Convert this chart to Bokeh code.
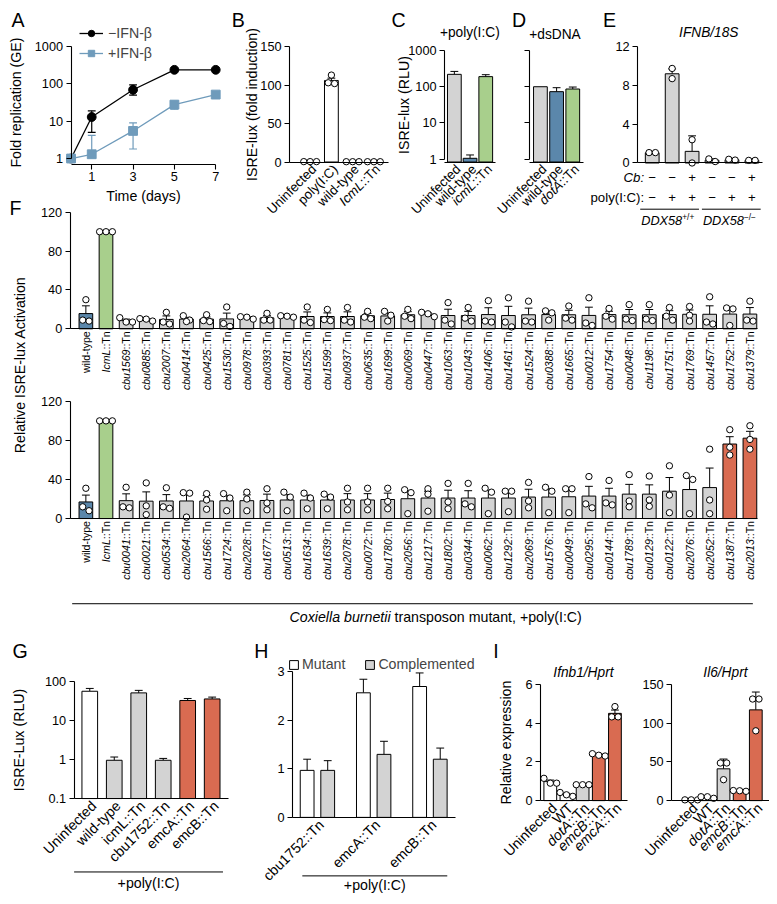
import math
from bokeh.plotting import figure
from bokeh.models import (Range1d, FixedTicker, CustomJSTickFormatter, Whisker, TeeHead,
                          LabelSet, Label, ColumnDataSource, Legend, LegendItem)
from bokeh.embed import file_html
from bokeh.resources import INLINE
from bokeh.core.properties import value

# ---------------------------------------------------------------- data
# A
A_days = [0, 1, 3, 5, 7]
A_minus = [1, 13, 70, 240, 240]
A_minus_lo = [1, 5, 50, 240, 240]
A_minus_hi = [1, 19, 95, 240, 240]
A_plus = [1, 1.3, 5.5, 28, 52]
A_plus_lo = [1, 1.3, 1.8, 21, 52]
A_plus_hi = [1, 4.2, 9, 35, 52]
A_xticks = [1, 3, 5, 7]
A_yticks = [1, 10, 100, 1000]
# B
B_cats = ["Uninfected", "poly(I:C)", "wild-type", "IcmL::Tn"]
B_mean = [0.5, 106, 0.4, 0.4]
B_err = [0, 3, 0, 0]
B_dots = [[0.5, 0.5, 0.5], [113, 103, 102], [0.4, 0.4, 0.4], [0.4, 0.4, 0.4]]
B_yticks = [0, 50, 100, 150]
# C
C_cats = ["Uninfected", "wild-type", "icmL::Tn"]
C_mean = [220, 1.05, 190]
C_err = [45, 0.25, 25]
LOG_TICKS = [1, 10, 100, 1000]
# D
D_cats = ["Uninfected", "wild-type", "dotA::Tn"]
D_mean = [100, 73, 86.5]
D_err = [0, 21, 11.5]
# E
E_cb = ["\u2212", "\u2212", "+", "\u2212", "\u2212", "+"]
E_poly = ["\u2212", "+", "+", "\u2212", "+", "+"]
E_mean = [1.05, 9.2, 1.2, 0.28, 0.33, 0.27]
E_err = [0.03, 0.5, 1.6, 0.15, 0.05, 0.02]
E_dots = [[1.07, 1.07], [9.75, 8.7], [2.4, 0.0], [0.15, 0.42], [0.3, 0.38], [0.27, 0.27]]
E_yticks = [0, 4, 8, 12]
# F (top)
F_top_cats = ["wild-type", "IcmL::Tn", "cbu1569::Tn", "cbu0885::Tn", "cbu2007::Tn", "cbu0414::Tn",
              "cbu0425::Tn", "cbu1530::Tn", "cbu0978::Tn", "cbu0393::Tn", "cbu0781::Tn", "cbu1525::Tn",
              "cbu1599::Tn", "cbu0937::Tn", "cbu0635::Tn", "cbu1699::Tn", "cbu0069::Tn", "cbu0447::Tn",
              "cbu1063::Tn", "cbu1043::Tn", "cbu1406::Tn", "cbu1461::Tn", "cbu1524::Tn", "cbu0388::Tn",
              "cbu1665::Tn", "cbu0012::Tn", "cbu1754::Tn", "cbu0048::Tn", "cbu1198::Tn", "cbu1751::Tn",
              "cbu1769::Tn", "cbu1457::Tn", "cbu1752::Tn", "cbu1379::Tn"]
F_top_mean = [15.7, 100, 8.5, 9.5, 9.7, 10, 10, 10.2, 11.5, 11.3, 12.5, 12.7, 12.7, 12.7, 13.5, 13.3,
              14.5, 15, 13.7, 13.7, 14.7, 13.7, 14.5, 14.7, 14.5, 13.8, 14.7, 14.5, 14.5, 14.7, 15, 15,
              15.2, 15.2]
F_top_err = [8, 0, 1.5, 0.8, 3.6, 1.8, 2.2, 6, 0.8, 2.3, 0.5, 4.7, 3.7, 4.8, 2.4, 3, 3.2, 1.4, 6.5,
             4.3, 7, 9.5, 6.8, 2.9, 4.6, 8.5, 3.4, 5.4, 5.4, 4, 4.4, 8.7, 5.7, 6.7]
F_top_dots = [[30, 9, 8], [100, 100, 100], [11.5, 7, 7], [10.5, 10, 8], [17, 7, 5], [13.5, 9, 7.5],
              [14.5, 8.5, 7.5], [22.5, 5.5, 2.5], [12.5, 12, 10], [16, 9, 9], [13.5, 13, 12],
              [22.5, 9, 6.5], [20, 9.5, 8.5], [22, 9, 7], [18, 12, 10.5], [18, 14, 8], [20, 13, 10.5],
              [17, 15.5, 12.5], [27, 9, 5], [22, 11, 8], [29, 8, 7], [32, 7, 2], [28.5, 8, 7],
              [18.5, 16.5, 9], [23.5, 11, 9], [32, 6, 3.5], [21, 13, 10], [25, 10, 8.5], [25, 10, 8.5],
              [22, 13, 9], [23, 14, 8], [33, 7, 5], [21.5, 20.5, 3.5], [28.5, 9, 8]]
# F (bottom)
F_bot_cats = ["wild-type", "IcmL::Tn", "cbu0041::Tn", "cbu0021::Tn", "cbu0534::Tn", "cbu2064::Tn",
              "cbu1566::Tn", "cbu1724::Tn", "cbu2028::Tn", "cbu1677::Tn", "cbu0513::Tn", "cbu1634::Tn",
              "cbu1639::Tn", "cbu2078::Tn", "cbu0072::Tn", "cbu1780::Tn", "cbu2056::Tn", "cbu1217::Tn",
              "cbu1802::Tn", "cbu0344::Tn", "cbu0062::Tn", "cbu1292::Tn", "cbu2069::Tn", "cbu1576::Tn",
              "cbu0049::Tn", "cbu0295::Tn", "cbu0144::Tn", "cbu1789::Tn", "cbu0129::Tn", "cbu0122::Tn",
              "cbu2076::Tn", "cbu2052::Tn", "cbu1387::Tn", "cbu2013::Tn"]
F_bot_mean = [17, 100, 18.3, 17.8, 18, 18, 18, 18.2, 18.3, 18.5, 19, 19, 19, 19, 19, 19.5, 20.3, 21,
              21, 21, 21, 21, 22, 22, 22.3, 23, 23, 25, 25, 28, 29.7, 31.7, 76.3, 82.3]
F_bot_err = [7, 0, 7, 9.5, 6.5, 8, 5.5, 5.5, 6, 6.5, 5.5, 5, 5, 6.5, 6.5, 6.5, 7.5, 7, 8, 7.5, 8, 7,
             8, 8.5, 8, 10, 8, 10, 9.5, 14, 11.5, 20, 7.5, 7]
F_bot_dots = [[31, 12, 8], [100, 100, 100], [32, 12, 11], [36.5, 13, 4], [31.5, 12, 10.5],
              [26.5, 26, 1.5], [25.5, 19, 9.5], [25.5, 21, 8], [27, 20, 8], [30.5, 16, 9], [27, 22, 8],
              [26, 21, 10], [25, 22, 10], [31, 17, 9], [31, 17, 9], [31, 17.5, 10], [29.5, 26.5, 5],
              [30.5, 25, 7.5], [36, 17, 10], [36, 15, 12], [31, 27, 5], [28, 28, 7], [37, 18, 11],
              [32, 28, 6], [30.5, 30.5, 6], [43, 15, 11], [39, 16, 14], [45, 18, 12], [43.5, 19, 12.5],
              [54, 24, 6], [44, 40, 5], [71, 19, 5], [91, 73, 65], [95, 81, 71]]
F_yticks = [0, 40, 80, 120]
# G
G_cats = ["Uninfected", "wild-type", "icmL::Tn", "cbu1752::Tn", "emcA::Tn", "emcB::Tn"]
G_mean = [55, 0.95, 50, 0.95, 32, 35]
G_err = [10, 0.2, 8, 0.11, 4, 4]
G_yticks = [0.1, 1, 10, 100]
# H
H_cats = ["cbu1752::Tn", "emcA::Tn", "emcB::Tn"]
H_mut = [0.97, 2.57, 2.7]
H_mut_err = [0.23, 0.28, 0.28]
H_comp = [0.97, 1.3, 1.2]
H_comp_err = [0.2, 0.27, 0.23]
H_yticks = [0, 1, 2, 3]
# I
I_cats = ["Uninfected", "WT", "dotA::Tn", "emcB::Tn", "emcA::Tn"]
I1_mean = [0.98, 0.31, 0.82, 2.35, 4.5]
I1_err = [0.08, 0.06, 0.02, 0.04, 0.17]
I1_dots = [[1.15, 0.9, 0.9], [0.42, 0.22, 0.3], [0.82, 0.82, 0.82], [2.42, 2.34, 2.3], [4.85, 4.32, 4.32]]
I1_yticks = [0, 2, 4, 6]
I2_mean = [1, 4.3, 41, 12.6, 117]
I2_err = [0.2, 0.6, 12.6, 0.3, 23]
I2_dots = [[1, 1, 1], [3, 5, 5], [48.5, 48.5, 27], [12.7, 13, 12], [131, 131, 90]]
I2_yticks = [0, 50, 100, 150]

# ---------------------------------------------------------------- style helpers
S = 761 / 777
FONT = "Liberation Sans"
GREY, BLUE, LBLUE, GREEN, RED, WHITE = "#d3d3d3", "#5b87ab", "#6f9bbb", "#a8cf8c", "#d96b51", "#ffffff"
EM = {":": 0.278, "T": 0.611, "n": 0.556}
LB, RB, TB, BB = 90, 0, 0, 60
ROOTS = []   # (model, left, top) in page pixels


def fs(v):
    return f"{v * S:.2f}px"


def cal(p1, v1, p2, v2, log=False):
    f = math.log10 if log else (lambda v: v)
    a1, a2 = f(v1), f(v2)

    def val(p):
        a = a1 + (p - p1) * (a2 - a1) / (p2 - p1)
        return 10 ** a if log else a
    return val


def panel(region, xcal, ycal, ylog=False):
    x0, y0, x1, y1 = region
    FX0, FY0, FX1, FY1 = round(x0 * S), round(y0 * S), round(x1 * S), round(y1 * S)
    xv = cal(*xcal)
    yv = cal(*ycal, log=ylog)
    p = figure(width=FX1 - FX0 + LB + RB, height=FY1 - FY0 + TB + BB,
               x_range=Range1d(xv(x0), xv(x1)), y_range=Range1d(yv(y1), yv(y0)),
               y_axis_type="log" if ylog else "linear",
               output_backend="svg", toolbar_location=None, min_border=0,
               min_border_left=LB, min_border_right=RB, min_border_top=TB, min_border_bottom=BB,
               background_fill_alpha=0, border_fill_alpha=0, outline_line_color=None)
    p.title.visible = False
    p.grid.visible = False
    ROOTS.append((p, FX0 - LB, FY0 - TB))
    return p, xv, yv


def style(p, yticks, ybounds, y_fixed, x_fixed, xbounds, xticks=(), ylabels=True, ylabel=None,
          ylabel_standoff=5):
    for ax in list(p.xaxis) + list(p.yaxis):
        ax.axis_line_color = "black"
        ax.axis_line_width = 1.1
        ax.major_tick_line_color = "black"
        ax.major_tick_line_width = 1.1
        ax.major_tick_out = round(5 * S)
        ax.major_tick_in = 0
        ax.minor_tick_line_color = None
        ax.major_label_text_font = FONT
        ax.major_label_text_font_size = fs(13)
        ax.major_label_text_color = "black"
        ax.major_label_standoff = round(3 * S)
        ax.axis_label_text_font = FONT
        ax.axis_label_text_font_size = fs(14.5)
        ax.axis_label_text_font_style = "normal"
        ax.axis_label_text_color = "black"
    p.yaxis.ticker = FixedTicker(ticks=list(yticks))
    p.yaxis.bounds = ybounds
    p.yaxis.fixed_location = y_fixed
    p.yaxis.formatter = CustomJSTickFormatter(code="return String(tick)" if ylabels else "return ''")
    p.xaxis.ticker = FixedTicker(ticks=list(xticks))
    p.xaxis.formatter = CustomJSTickFormatter(code="return String(tick)")
    p.xaxis.bounds = xbounds
    p.xaxis.fixed_location = x_fixed
    if ylabel:
        p.yaxis.axis_label = ylabel
        p.yaxis.axis_label_standoff = round(ylabel_standoff * S)


def bars(p, xs, tops, colors, width, bottom=0.0):
    src = ColumnDataSource(dict(x=list(xs), top=list(tops), c=list(colors)))
    return p.vbar(x="x", top="top", bottom=bottom, width=width, fill_color="c",
                  line_color="black", line_width=1, source=src)


def errbars(p, xs, tops, errs, color="black", cap=8):
    b, lo, hi = [], [], []
    for x, t, e in zip(xs, tops, errs):
        if e > 0:
            b.append(x)
            lo.append(t)
            hi.append(t + e)
    src = ColumnDataSource(dict(b=b, lo=lo, hi=hi))
    p.add_layout(Whisker(source=src, base="b", lower="lo", upper="hi", dimension="height",
                         line_color=color, line_width=1,
                         upper_head=TeeHead(size=cap * S, line_color=color, line_width=1),
                         lower_head=None))


def dots(p, xs, groups, ppx, ppy, diam=6.5):
    d = diam / ppx
    ox, oy = [], []
    for xc, vals in zip(xs, groups):
        rows = []
        for v in sorted(vals, reverse=True):
            if rows and abs(v - rows[-1][0]) * ppy < diam * 0.8:
                rows[-1][1].append(v)
            else:
                rows.append((v, [v]))
        for _, r in rows:
            m = len(r)
            for k, v in enumerate(r):
                ox.append(xc + (k - (m - 1) / 2) * d)
                oy.append(v)
    p.scatter(x=ox, y=oy, marker="circle", size=diam * S, fill_color="white",
              line_color="black", line_width=1)


def cat_labels(p, xs, names, y0, size, angle, dx, dy, italic=True):
    size_px = size * S
    ca, sa = math.cos(angle), math.sin(angle)
    R = dict(x=[], y=[], t=[], xo=[], yo=[])
    I = dict(x=[], y=[], t=[], xo=[], yo=[])
    for x, name in zip(xs, names):
        if italic and name.endswith("::Tn"):
            it, ro = name[:-4], "::Tn"
        else:
            it, ro = "", name
        R["x"].append(x); R["y"].append(y0); R["t"].append(ro)
        R["xo"].append(dx * S); R["yo"].append(dy * S)
        if it:
            w = sum(EM.get(c, 0.556) for c in ro) * size_px
            I["x"].append(x); I["y"].append(y0); I["t"].append(it)
            I["xo"].append(dx * S - w * ca); I["yo"].append(dy * S - w * sa)
    for d, st in ((R, "normal"), (I, "italic")):
        if d["x"]:
            p.add_layout(LabelSet(source=ColumnDataSource(d), x="x", y="y", text="t",
                                  x_offset="xo", y_offset="yo", angle=angle,
                                  text_align=value("right"), text_baseline=value("middle"),
                                  text_font=value(FONT), text_font_size=value(f"{size_px:.2f}px"),
                                  text_font_style=value(st), text_color=value("black")))


def idx(lst):
    return list(range(len(lst)))


# ---------------------------------------------------------------- overlay (page texts)
ov = figure(width=761, height=885, x_range=Range1d(0, 777), y_range=Range1d(904, 0),
            x_axis_location=None, y_axis_location=None, output_backend="svg", toolbar_location=None,
            min_border=0, background_fill_alpha=0, border_fill_alpha=0, outline_line_color=None)
ov.title.visible = False
ov.grid.visible = False
ROOTS.append((ov, 0, 0))


def txt(x, y, s, size, align="center", baseline="middle", st="normal", angle=0.0):
    ov.add_layout(Label(x=x, y=y, text=s, text_font=FONT, text_font_size=fs(size), text_align=align,
                        text_baseline=baseline, text_font_style=st, angle=angle, text_color="black"))


for letter, lx, ly in (("A", 3, 1), ("B", 228, 1), ("C", 391, 1), ("D", 514, 1), ("E", 607, 1),
                       ("F", 1, 193), ("G", 4, 645), ("H", 251, 645), ("I", 495, 645)):
    txt(lx, ly, letter, 20, align="left", baseline="top")

txt(471, 25, "+poly(I:C)", 14)
txt(558, 27, "+dsDNA", 14)
txt(715, 25, "IFNB/18S", 14, st="italic")
txt(587, 678, "Ifnb1/Hprt", 14, st="italic")
txt(732, 678, "Il6/Hprt", 14, st="italic")
txt(649, 173, "Cb:", 13.5, align="right", st="italic")
txt(649, 193, "poly(I:C):", 13.5, align="right")
for cx, sup in ((675, "+/+"), (738, "\u2212/\u2212")):
    x0 = cx - 29
    txt(x0, 217, "DDX58", 13, align="left", st="italic")
    txt(x0 + 3.223 * 13, 213, sup, 8.5, align="left")
txt(12, 364, "Relative ISRE-lux Activation", 14.5, angle=math.pi / 2)
txt(287, 622, "Coxiella burnetii", 14.5, align="left", st="italic")
txt(287 + (7.113 + 0.278) * 14.5, 622, "transposon mutant, +poly(I:C)", 14.5, align="left")
txt(143, 893, "+poly(I:C)", 14.5)
txt(374, 895.5, "+poly(I:C)", 14.5)
ov.segment(x0=[645, 708, 65, 67, 300], y0=[205, 205, 608, 882, 886],
           x1=[705, 768, 760, 219, 448], y1=[205, 205, 608, 882, 886], line_color="black",
           line_width=1)

# ---------------------------------------------------------------- A
pA, xv, yv = panel((0, 0, 222, 205), (64, 0, 212, 7), (153, 1, 39, 1000), ylog=True)
style(pA, A_yticks, (1, 1000), 0, yv(159), (0, 7), xticks=A_xticks,
      ylabel="Fold replication (GE)", ylabel_standoff=8)
pA.xaxis.axis_label = "Time (days)"
pA.xaxis.axis_label_standoff = round(3 * S)
for lo, hi, col in ((A_minus_lo, A_minus_hi, "black"), (A_plus_lo, A_plus_hi, LBLUE)):
    b, l, h = [], [], []
    for d, a, c in zip(A_days, lo, hi):
        if c > a:
            b.append(d); l.append(a); h.append(c)
    pA.add_layout(Whisker(source=ColumnDataSource(dict(b=b, l=l, h=h)), base="b", lower="l", upper="h",
                          line_color=col, line_width=1.2,
                          upper_head=TeeHead(size=8 * S, line_color=col, line_width=1.2),
                          lower_head=TeeHead(size=8 * S, line_color=col, line_width=1.2)))
lm = pA.line(A_days, A_minus, line_color="black", line_width=1.3)
sm = pA.scatter(A_days, A_minus, marker="circle", size=9 * S, color="black")
lp = pA.line(A_days, A_plus, line_color=LBLUE, line_width=1.3)
sp = pA.scatter(A_days, A_plus, marker="square", size=9 * S, color=LBLUE)
legA = Legend(items=[LegendItem(label="\u2212IFN-\u03b2", renderers=[lm, sm]),
                     LegendItem(label="+IFN-\u03b2", renderers=[lp, sp])],
              location=(round(73 * S), round((205 - 54) * S)), orientation="vertical",
              background_fill_alpha=0, border_line_color=None, padding=0, margin=0,
              spacing=round(4 * S), glyph_width=round(24 * S), glyph_height=round(16 * S),
              label_height=round(16 * S), label_standoff=round(5 * S), label_text_font=FONT,
              label_text_font_size=fs(14.5))
pA.add_layout(legA)

# ---------------------------------------------------------------- B
pB, xv, yv = panel((240, 0, 392, 225), (308, 0, 373, 3), (157, 0, 39, 150))
style(pB, B_yticks, (0, 150), xv(287), 0, (xv(287), xv(388)),
      ylabel="ISRE-lux (fold induction)", ylabel_standoff=-3)
bars(pB, idx(B_cats), B_mean, [WHITE] * 4, 0.65)
errbars(pB, idx(B_cats), B_mean, B_err)
dots(pB, idx(B_cats), B_dots, 21.67, 0.787)
cat_labels(pB, idx(B_cats), B_cats, 0, 13.5, math.pi / 4, 4, -5)

# ---------------------------------------------------------------- C
pC, xv, yv = panel((395, 0, 500, 225), (455, 0, 487, 2), (154, 1, 43, 1000), ylog=True)
style(pC, LOG_TICKS, (1, 1000), xv(445), yv(157), (xv(445), xv(497)),
      ylabel="ISRE-lux (RLU)", ylabel_standoff=-7)
bars(pC, idx(C_cats), C_mean, [GREY, BLUE, GREEN], 0.875, bottom=yv(157))
errbars(pC, idx(C_cats), C_mean, C_err)
cat_labels(pC, idx(C_cats), C_cats, yv(157), 13.5, math.pi / 4, 4, -5)

# ---------------------------------------------------------------- D
pD, xv, yv = panel((488, 0, 590, 225), (543, 0, 576, 2), (154, 1, 43, 1000), ylog=True)
style(pD, LOG_TICKS, (1, 1000), xv(532), yv(157), (xv(532), xv(587)), ylabels=False)
bars(pD, idx(D_cats), D_mean, [GREY, BLUE, GREEN], 0.85, bottom=yv(157))
errbars(pD, idx(D_cats), D_mean, D_err)
cat_labels(pD, idx(D_cats), D_cats, yv(157), 13.5, math.pi / 4, 4, -5)

# ---------------------------------------------------------------- E
pE, xv, yv = panel((600, 0, 777, 225), (657, 0, 759, 5), (158, 0, 39, 12))
style(pE, E_yticks, (0, 12), xv(642), 0, (xv(642), xv(770)))
bars(pE, idx(E_cb), E_mean, [GREY] * 6, 0.69)
errbars(pE, idx(E_cb), E_mean, E_err)
dots(pE, idx(E_cb), E_dots, 20.4, 9.917)
for row, dy in ((E_cb, -15), (E_poly, -35)):
    pE.add_layout(LabelSet(source=ColumnDataSource(dict(x=idx(row), y=[0] * len(row), t=row)),
                           x="x", y="y", text="t", y_offset=dy * S, text_align=value("center"),
                           text_baseline=value("middle"), text_font=value(FONT),
                           text_font_size=value(fs(13.5)), text_color=value("black")))

# ---------------------------------------------------------------- F
for region, ycal, cats, mean, err, dts, cols in (
        ((0, 198, 777, 392), (327, 0, 208, 120), F_top_cats, F_top_mean, F_top_err, F_top_dots,
         [BLUE, GREEN] + [GREY] * 32),
        ((0, 392, 777, 602), (520.5, 0, 401, 120), F_bot_cats, F_bot_mean, F_bot_err, F_bot_dots,
         [BLUE, GREEN] + [GREY] * 30 + [RED, RED])):
    pF, xv, yv = panel(region, (79, 0, 757, 33), ycal)
    style(pF, F_yticks, (0, 120), xv(63), 0, (xv(63), xv(765)))
    xs = idx(cats)
    bars(pF, xs, mean, cols, 0.68)
    errbars(pF, xs, mean, err)
    dots(pF, xs, dts, 20.545, (ycal[0] - ycal[2]) / 120)
    cat_labels(pF, xs, cats, 0, 10.8, math.pi / 2, 0, -2.5)

# ---------------------------------------------------------------- G
pG, xv, yv = panel((0, 668, 240, 904), (83, 0, 208, 5), (807, 0.1, 687, 100), ylog=True)
style(pG, G_yticks, (0.1, 100), xv(67), 0.1, (xv(67), xv(225)),
      ylabel="ISRE-Lux (RLU)", ylabel_standoff=15)
bars(pG, idx(G_cats), G_mean, [WHITE, GREY, GREY, GREY, RED, RED], 0.64, bottom=0.1)
errbars(pG, idx(G_cats), G_mean, G_err)
cat_labels(pG, idx(G_cats), G_cats, 0.1, 14.5, math.pi / 4, 4, -5, italic=False)

# ---------------------------------------------------------------- H
pH, xv, yv = panel((150, 655, 520, 904), (315.5, 0, 430.5, 2), (826, 0, 677, 3))
style(pH, H_yticks, (0, 3), xv(290), 0, (xv(290), xv(457)))
xm = [i - 0.183 for i in idx(H_cats)]
xc = [i + 0.183 for i in idx(H_cats)]
rm = bars(pH, xm, H_mut, [WHITE] * 3, 0.245)
rc = bars(pH, xc, H_comp, [GREY] * 3, 0.245)
errbars(pH, xm, H_mut, H_mut_err)
errbars(pH, xc, H_comp, H_comp_err)
cat_labels(pH, idx(H_cats), H_cats, 0, 14.5, math.pi / 4, 4, -5, italic=False)
legH = Legend(items=[LegendItem(label="Mutant", renderers=[rm]),
                     LegendItem(label="Complemented", renderers=[rc])],
              location=(round((286 - 150) * S), round((904 - 678.5) * S)), orientation="horizontal",
              background_fill_alpha=0, border_line_color=None, padding=0, margin=0,
              spacing=round(19 * S), glyph_width=round(11 * S), glyph_height=round(11 * S),
              label_height=round(11 * S), label_standoff=round(3 * S), label_text_font=FONT,
              label_text_font_size=fs(14.5))
pH.add_layout(legH)

# ---------------------------------------------------------------- I
pI1, xv, yv = panel((495, 680, 640, 904), (553, 0, 619, 4), (809, 0, 690, 6))
style(pI1, I1_yticks, (0, 6), xv(543), 0, (xv(543), xv(632)),
      ylabel="Relative expression", ylabel_standoff=8.5)
bars(pI1, idx(I_cats), I1_mean, [WHITE, WHITE, GREY, RED, RED], 0.79)
errbars(pI1, idx(I_cats), I1_mean, I1_err)
dots(pI1, idx(I_cats), I1_dots, 16.5, 19.83)
cat_labels(pI1, idx(I_cats), I_cats, 0, 14.5, math.pi / 4, 4, -5)

pI2, xv, yv = panel((640, 680, 777, 904), (697, 0, 763, 4), (809, 0, 690, 150))
style(pI2, I2_yticks, (0, 150), xv(677), 0, (xv(677), xv(777)))
bars(pI2, idx(I_cats), I2_mean, [WHITE, WHITE, GREY, RED, RED], 0.79)
errbars(pI2, idx(I_cats), I2_mean, I2_err)
dots(pI2, idx(I_cats), I2_dots, 16.5, 0.793)
cat_labels(pI2, idx(I_cats), I_cats, 0, 14.5, math.pi / 4, 4, -5)

# ---------------------------------------------------------------- page
TEMPLATE = """
{% from macros import embed %}
{% block contents %}
<div style="position:absolute;left:8px;top:8px;width:761px;height:885px;overflow:hidden;">
{% for i in range(n) %}
<div style="position:absolute;left:{{ pos[i][0] }}px;top:{{ pos[i][1] }}px;">
{{ embed(roots[i]) }}
</div>
{% endfor %}
</div>
{% endblock %}
"""
models = [r[0] for r in ROOTS]
pos = [(r[1], r[2]) for r in ROOTS]
html = file_html(models, INLINE, template=TEMPLATE,
                 template_variables=dict(pos=pos, n=len(models)))
open("out.html", "w").write(html)
